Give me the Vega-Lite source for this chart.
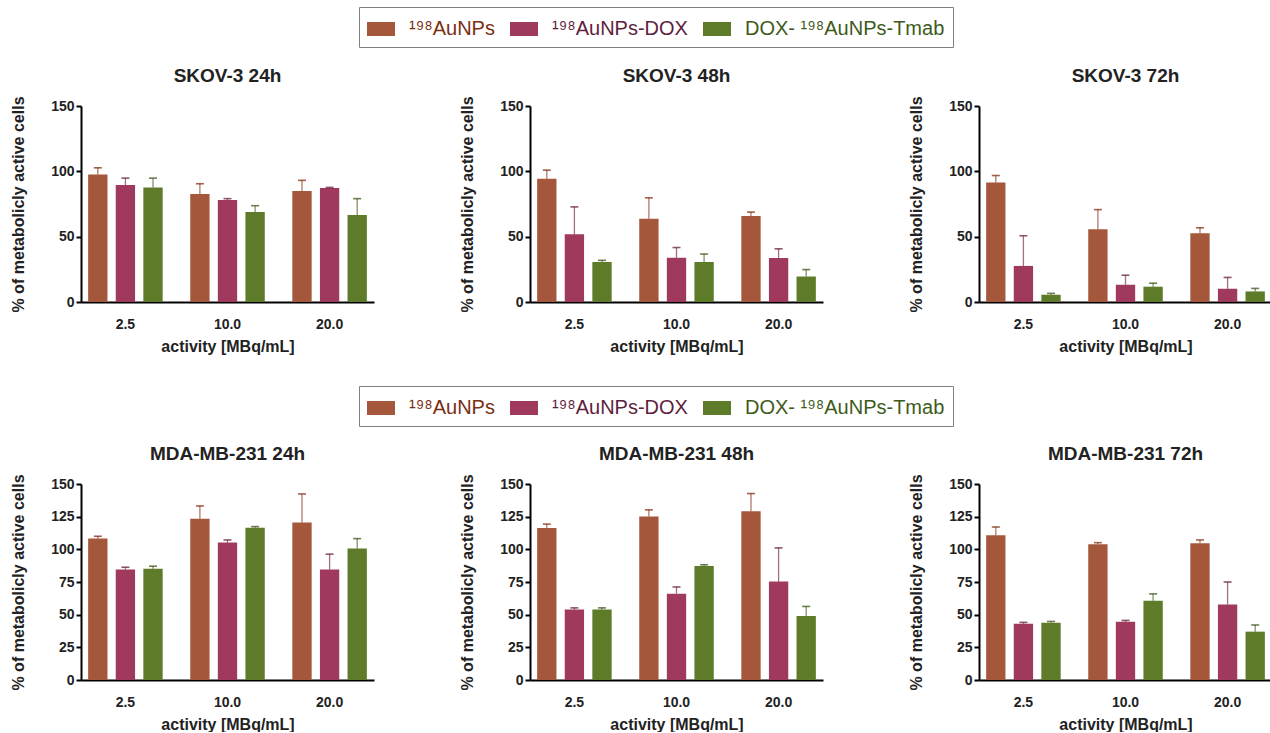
{
  "$schema": "https://vega.github.io/schema/vega-lite/v6.json",
  "padding": {"left": 10, "top": 6, "right": 0, "bottom": 0},
  "data": {"values": [
    {"panel": "SKOV-3 24h", "activity": "2.5", "formulation": "¹⁹⁸AuNPs", "mean": 97.6, "upper": 102.7},
    {"panel": "SKOV-3 24h", "activity": "2.5", "formulation": "¹⁹⁸AuNPs-DOX", "mean": 89.5, "upper": 94.8},
    {"panel": "SKOV-3 24h", "activity": "2.5", "formulation": "DOX- ¹⁹⁸AuNPs-Tmab", "mean": 87.7, "upper": 94.8},
    {"panel": "SKOV-3 24h", "activity": "10.0", "formulation": "¹⁹⁸AuNPs", "mean": 82.6, "upper": 90.5},
    {"panel": "SKOV-3 24h", "activity": "10.0", "formulation": "¹⁹⁸AuNPs-DOX", "mean": 78.1, "upper": 79.1},
    {"panel": "SKOV-3 24h", "activity": "10.0", "formulation": "DOX- ¹⁹⁸AuNPs-Tmab", "mean": 68.9, "upper": 73.7},
    {"panel": "SKOV-3 24h", "activity": "20.0", "formulation": "¹⁹⁸AuNPs", "mean": 84.9, "upper": 93.1},
    {"panel": "SKOV-3 24h", "activity": "20.0", "formulation": "¹⁹⁸AuNPs-DOX", "mean": 87.2, "upper": 87.7},
    {"panel": "SKOV-3 24h", "activity": "20.0", "formulation": "DOX- ¹⁹⁸AuNPs-Tmab", "mean": 66.6, "upper": 79.1},
    {"panel": "SKOV-3 48h", "activity": "2.5", "formulation": "¹⁹⁸AuNPs", "mean": 94.4, "upper": 100.9},
    {"panel": "SKOV-3 48h", "activity": "2.5", "formulation": "¹⁹⁸AuNPs-DOX", "mean": 51.9, "upper": 72.8},
    {"panel": "SKOV-3 48h", "activity": "2.5", "formulation": "DOX- ¹⁹⁸AuNPs-Tmab", "mean": 30.6, "upper": 31.9},
    {"panel": "SKOV-3 48h", "activity": "10.0", "formulation": "¹⁹⁸AuNPs", "mean": 63.7, "upper": 79.7},
    {"panel": "SKOV-3 48h", "activity": "10.0", "formulation": "¹⁹⁸AuNPs-DOX", "mean": 33.9, "upper": 41.7},
    {"panel": "SKOV-3 48h", "activity": "10.0", "formulation": "DOX- ¹⁹⁸AuNPs-Tmab", "mean": 30.6, "upper": 36.7},
    {"panel": "SKOV-3 48h", "activity": "20.0", "formulation": "¹⁹⁸AuNPs", "mean": 65.8, "upper": 68.8},
    {"panel": "SKOV-3 48h", "activity": "20.0", "formulation": "¹⁹⁸AuNPs-DOX", "mean": 33.6, "upper": 40.7},
    {"panel": "SKOV-3 48h", "activity": "20.0", "formulation": "DOX- ¹⁹⁸AuNPs-Tmab", "mean": 19.5, "upper": 24.8},
    {"panel": "SKOV-3 72h", "activity": "2.5", "formulation": "¹⁹⁸AuNPs", "mean": 91.5, "upper": 96.8},
    {"panel": "SKOV-3 72h", "activity": "2.5", "formulation": "¹⁹⁸AuNPs-DOX", "mean": 27.6, "upper": 50.7},
    {"panel": "SKOV-3 72h", "activity": "2.5", "formulation": "DOX- ¹⁹⁸AuNPs-Tmab", "mean": 5.6, "upper": 6.6},
    {"panel": "SKOV-3 72h", "activity": "10.0", "formulation": "¹⁹⁸AuNPs", "mean": 55.7, "upper": 70.7},
    {"panel": "SKOV-3 72h", "activity": "10.0", "formulation": "¹⁹⁸AuNPs-DOX", "mean": 13.2, "upper": 20.5},
    {"panel": "SKOV-3 72h", "activity": "10.0", "formulation": "DOX- ¹⁹⁸AuNPs-Tmab", "mean": 11.7, "upper": 14.4},
    {"panel": "SKOV-3 72h", "activity": "20.0", "formulation": "¹⁹⁸AuNPs", "mean": 52.7, "upper": 56.8},
    {"panel": "SKOV-3 72h", "activity": "20.0", "formulation": "¹⁹⁸AuNPs-DOX", "mean": 10.1, "upper": 18.8},
    {"panel": "SKOV-3 72h", "activity": "20.0", "formulation": "DOX- ¹⁹⁸AuNPs-Tmab", "mean": 8.1, "upper": 10.4},
    {"panel": "MDA-MB-231 24h", "activity": "2.5", "formulation": "¹⁹⁸AuNPs", "mean": 108.2, "upper": 110.0},
    {"panel": "MDA-MB-231 24h", "activity": "2.5", "formulation": "¹⁹⁸AuNPs-DOX", "mean": 84.6, "upper": 86.3},
    {"panel": "MDA-MB-231 24h", "activity": "2.5", "formulation": "DOX- ¹⁹⁸AuNPs-Tmab", "mean": 85.1, "upper": 87.1},
    {"panel": "MDA-MB-231 24h", "activity": "10.0", "formulation": "¹⁹⁸AuNPs", "mean": 123.5, "upper": 133.2},
    {"panel": "MDA-MB-231 24h", "activity": "10.0", "formulation": "¹⁹⁸AuNPs-DOX", "mean": 105.2, "upper": 107.2},
    {"panel": "MDA-MB-231 24h", "activity": "10.0", "formulation": "DOX- ¹⁹⁸AuNPs-Tmab", "mean": 116.6, "upper": 117.4},
    {"panel": "MDA-MB-231 24h", "activity": "20.0", "formulation": "¹⁹⁸AuNPs", "mean": 120.5, "upper": 142.4},
    {"panel": "MDA-MB-231 24h", "activity": "20.0", "formulation": "¹⁹⁸AuNPs-DOX", "mean": 84.6, "upper": 96.3},
    {"panel": "MDA-MB-231 24h", "activity": "20.0", "formulation": "DOX- ¹⁹⁸AuNPs-Tmab", "mean": 100.6, "upper": 108.2},
    {"panel": "MDA-MB-231 48h", "activity": "2.5", "formulation": "¹⁹⁸AuNPs", "mean": 116.3, "upper": 119.3},
    {"panel": "MDA-MB-231 48h", "activity": "2.5", "formulation": "¹⁹⁸AuNPs-DOX", "mean": 54.0, "upper": 55.2},
    {"panel": "MDA-MB-231 48h", "activity": "2.5", "formulation": "DOX- ¹⁹⁸AuNPs-Tmab", "mean": 54.0, "upper": 55.2},
    {"panel": "MDA-MB-231 48h", "activity": "10.0", "formulation": "¹⁹⁸AuNPs", "mean": 125.2, "upper": 130.2},
    {"panel": "MDA-MB-231 48h", "activity": "10.0", "formulation": "¹⁹⁸AuNPs-DOX", "mean": 66.1, "upper": 71.2},
    {"panel": "MDA-MB-231 48h", "activity": "10.0", "formulation": "DOX- ¹⁹⁸AuNPs-Tmab", "mean": 87.2, "upper": 88.2},
    {"panel": "MDA-MB-231 48h", "activity": "20.0", "formulation": "¹⁹⁸AuNPs", "mean": 129.2, "upper": 142.7},
    {"panel": "MDA-MB-231 48h", "activity": "20.0", "formulation": "¹⁹⁸AuNPs-DOX", "mean": 75.3, "upper": 101.1},
    {"panel": "MDA-MB-231 48h", "activity": "20.0", "formulation": "DOX- ¹⁹⁸AuNPs-Tmab", "mean": 48.9, "upper": 56.3},
    {"panel": "MDA-MB-231 72h", "activity": "2.5", "formulation": "¹⁹⁸AuNPs", "mean": 110.7, "upper": 117.1},
    {"panel": "MDA-MB-231 72h", "activity": "2.5", "formulation": "¹⁹⁸AuNPs-DOX", "mean": 43.1, "upper": 44.1},
    {"panel": "MDA-MB-231 72h", "activity": "2.5", "formulation": "DOX- ¹⁹⁸AuNPs-Tmab", "mean": 43.8, "upper": 44.8},
    {"panel": "MDA-MB-231 72h", "activity": "10.0", "formulation": "¹⁹⁸AuNPs", "mean": 103.9, "upper": 105.1},
    {"panel": "MDA-MB-231 72h", "activity": "10.0", "formulation": "¹⁹⁸AuNPs-DOX", "mean": 44.6, "upper": 45.6},
    {"panel": "MDA-MB-231 72h", "activity": "10.0", "formulation": "DOX- ¹⁹⁸AuNPs-Tmab", "mean": 60.6, "upper": 65.9},
    {"panel": "MDA-MB-231 72h", "activity": "20.0", "formulation": "¹⁹⁸AuNPs", "mean": 104.6, "upper": 107.2},
    {"panel": "MDA-MB-231 72h", "activity": "20.0", "formulation": "¹⁹⁸AuNPs-DOX", "mean": 57.8, "upper": 75.0},
    {"panel": "MDA-MB-231 72h", "activity": "20.0", "formulation": "DOX- ¹⁹⁸AuNPs-Tmab", "mean": 37.0, "upper": 42.1}
  ]},
  "spacing": 31,
  "resolve": {"legend": {"color": "independent"}},
  "vconcat": [
    {
      "spacing": 85,
      "hconcat": [
        {
          "title": "SKOV-3 24h", "width": 293, "height": 196,
          "transform": [{"filter": "datum.panel === 'SKOV-3 24h'"}],
          "encoding": {
            "x": {"field": "activity", "type": "nominal", "sort": ["2.5", "10.0", "20.0"], "title": "activity [MBq/mL]", "scale": {"paddingInner": 0.27, "paddingOuter": 0.07}},
            "xOffset": {"field": "formulation", "type": "nominal", "sort": ["¹⁹⁸AuNPs", "¹⁹⁸AuNPs-DOX", "DOX- ¹⁹⁸AuNPs-Tmab"], "scale": {"paddingInner": 0.3}},
            "y": {"field": "mean", "type": "quantitative", "scale": {"domain": [0, 150]}, "title": "% of metabolicly active cells", "axis": {"values": [0, 50, 100, 150]}}
          },
          "layer": [
            {"mark": {"type": "bar"}, "encoding": {"color": {"field": "formulation", "type": "nominal", "scale": {"domain": ["¹⁹⁸AuNPs", "¹⁹⁸AuNPs-DOX", "DOX- ¹⁹⁸AuNPs-Tmab"], "range": ["#a5573c", "#9f395d", "#5e7b2a"]}, "legend": {"title": null, "orient": "none", "legendX": 278, "legendY": -99, "labelColor": {"expr": "datum.value === '¹⁹⁸AuNPs' ? '#7b2e12' : datum.value === '¹⁹⁸AuNPs-DOX' ? '#5e1e3e' : '#3e5a1a'"}}}}},
            {"mark": {"type": "rule", "strokeWidth": 1.3, "opacity": 0.6}, "encoding": {"y2": {"field": "upper"}, "stroke": {"field": "formulation", "type": "nominal", "scale": {"domain": ["¹⁹⁸AuNPs", "¹⁹⁸AuNPs-DOX", "DOX- ¹⁹⁸AuNPs-Tmab"], "range": ["#7a1f00", "#5e0f33", "#2e4a0a"]}, "legend": null}}},
            {"mark": {"type": "tick", "thickness": 1.6, "size": 8}, "encoding": {"y": {"field": "upper", "type": "quantitative", "title": "% of metabolicly active cells"}, "fill": {"field": "formulation", "type": "nominal", "scale": {"domain": ["¹⁹⁸AuNPs", "¹⁹⁸AuNPs-DOX", "DOX- ¹⁹⁸AuNPs-Tmab"], "range": ["#7a1f00", "#5e0f33", "#2e4a0a"]}, "legend": null}}}
          ]
        },
        {
          "title": "SKOV-3 48h", "width": 293, "height": 196,
          "transform": [{"filter": "datum.panel === 'SKOV-3 48h'"}],
          "encoding": {
            "x": {"field": "activity", "type": "nominal", "sort": ["2.5", "10.0", "20.0"], "title": "activity [MBq/mL]", "scale": {"paddingInner": 0.27, "paddingOuter": 0.07}},
            "xOffset": {"field": "formulation", "type": "nominal", "sort": ["¹⁹⁸AuNPs", "¹⁹⁸AuNPs-DOX", "DOX- ¹⁹⁸AuNPs-Tmab"], "scale": {"paddingInner": 0.3}},
            "y": {"field": "mean", "type": "quantitative", "scale": {"domain": [0, 150]}, "title": "% of metabolicly active cells", "axis": {"values": [0, 50, 100, 150]}}
          },
          "layer": [
            {"mark": {"type": "bar"}, "encoding": {"color": {"field": "formulation", "type": "nominal", "scale": {"domain": ["¹⁹⁸AuNPs", "¹⁹⁸AuNPs-DOX", "DOX- ¹⁹⁸AuNPs-Tmab"], "range": ["#a5573c", "#9f395d", "#5e7b2a"]}, "legend": {"title": null, "orient": "none", "legendX": 278, "legendY": -99, "labelColor": {"expr": "datum.value === '¹⁹⁸AuNPs' ? '#7b2e12' : datum.value === '¹⁹⁸AuNPs-DOX' ? '#5e1e3e' : '#3e5a1a'"}}}}},
            {"mark": {"type": "rule", "strokeWidth": 1.3, "opacity": 0.6}, "encoding": {"y2": {"field": "upper"}, "stroke": {"field": "formulation", "type": "nominal", "scale": {"domain": ["¹⁹⁸AuNPs", "¹⁹⁸AuNPs-DOX", "DOX- ¹⁹⁸AuNPs-Tmab"], "range": ["#7a1f00", "#5e0f33", "#2e4a0a"]}, "legend": null}}},
            {"mark": {"type": "tick", "thickness": 1.6, "size": 8}, "encoding": {"y": {"field": "upper", "type": "quantitative", "title": "% of metabolicly active cells"}, "fill": {"field": "formulation", "type": "nominal", "scale": {"domain": ["¹⁹⁸AuNPs", "¹⁹⁸AuNPs-DOX", "DOX- ¹⁹⁸AuNPs-Tmab"], "range": ["#7a1f00", "#5e0f33", "#2e4a0a"]}, "legend": null}}}
          ]
        },
        {
          "title": "SKOV-3 72h", "width": 293, "height": 196,
          "transform": [{"filter": "datum.panel === 'SKOV-3 72h'"}],
          "encoding": {
            "x": {"field": "activity", "type": "nominal", "sort": ["2.5", "10.0", "20.0"], "title": "activity [MBq/mL]", "scale": {"paddingInner": 0.27, "paddingOuter": 0.07}},
            "xOffset": {"field": "formulation", "type": "nominal", "sort": ["¹⁹⁸AuNPs", "¹⁹⁸AuNPs-DOX", "DOX- ¹⁹⁸AuNPs-Tmab"], "scale": {"paddingInner": 0.3}},
            "y": {"field": "mean", "type": "quantitative", "scale": {"domain": [0, 150]}, "title": "% of metabolicly active cells", "axis": {"values": [0, 50, 100, 150]}}
          },
          "layer": [
            {"mark": {"type": "bar"}, "encoding": {"color": {"field": "formulation", "type": "nominal", "scale": {"domain": ["¹⁹⁸AuNPs", "¹⁹⁸AuNPs-DOX", "DOX- ¹⁹⁸AuNPs-Tmab"], "range": ["#a5573c", "#9f395d", "#5e7b2a"]}, "legend": {"title": null, "orient": "none", "legendX": 278, "legendY": -99, "labelColor": {"expr": "datum.value === '¹⁹⁸AuNPs' ? '#7b2e12' : datum.value === '¹⁹⁸AuNPs-DOX' ? '#5e1e3e' : '#3e5a1a'"}}}}},
            {"mark": {"type": "rule", "strokeWidth": 1.3, "opacity": 0.6}, "encoding": {"y2": {"field": "upper"}, "stroke": {"field": "formulation", "type": "nominal", "scale": {"domain": ["¹⁹⁸AuNPs", "¹⁹⁸AuNPs-DOX", "DOX- ¹⁹⁸AuNPs-Tmab"], "range": ["#7a1f00", "#5e0f33", "#2e4a0a"]}, "legend": null}}},
            {"mark": {"type": "tick", "thickness": 1.6, "size": 8}, "encoding": {"y": {"field": "upper", "type": "quantitative", "title": "% of metabolicly active cells"}, "fill": {"field": "formulation", "type": "nominal", "scale": {"domain": ["¹⁹⁸AuNPs", "¹⁹⁸AuNPs-DOX", "DOX- ¹⁹⁸AuNPs-Tmab"], "range": ["#7a1f00", "#5e0f33", "#2e4a0a"]}, "legend": null}}}
          ]
        }
      ]
    },
    {
      "spacing": 85,
      "hconcat": [
        {
          "title": "MDA-MB-231 24h", "width": 293, "height": 196,
          "transform": [{"filter": "datum.panel === 'MDA-MB-231 24h'"}],
          "encoding": {
            "x": {"field": "activity", "type": "nominal", "sort": ["2.5", "10.0", "20.0"], "title": "activity [MBq/mL]", "scale": {"paddingInner": 0.27, "paddingOuter": 0.07}},
            "xOffset": {"field": "formulation", "type": "nominal", "sort": ["¹⁹⁸AuNPs", "¹⁹⁸AuNPs-DOX", "DOX- ¹⁹⁸AuNPs-Tmab"], "scale": {"paddingInner": 0.3}},
            "y": {"field": "mean", "type": "quantitative", "scale": {"domain": [0, 150]}, "title": "% of metabolicly active cells", "axis": {"values": [0, 25, 50, 75, 100, 125, 150]}}
          },
          "layer": [
            {"mark": {"type": "bar"}, "encoding": {"color": {"field": "formulation", "type": "nominal", "scale": {"domain": ["¹⁹⁸AuNPs", "¹⁹⁸AuNPs-DOX", "DOX- ¹⁹⁸AuNPs-Tmab"], "range": ["#a5573c", "#9f395d", "#5e7b2a"]}, "legend": {"title": null, "orient": "none", "legendX": 278, "legendY": -98, "labelColor": {"expr": "datum.value === '¹⁹⁸AuNPs' ? '#7b2e12' : datum.value === '¹⁹⁸AuNPs-DOX' ? '#5e1e3e' : '#3e5a1a'"}}}}},
            {"mark": {"type": "rule", "strokeWidth": 1.3, "opacity": 0.6}, "encoding": {"y2": {"field": "upper"}, "stroke": {"field": "formulation", "type": "nominal", "scale": {"domain": ["¹⁹⁸AuNPs", "¹⁹⁸AuNPs-DOX", "DOX- ¹⁹⁸AuNPs-Tmab"], "range": ["#7a1f00", "#5e0f33", "#2e4a0a"]}, "legend": null}}},
            {"mark": {"type": "tick", "thickness": 1.6, "size": 8}, "encoding": {"y": {"field": "upper", "type": "quantitative", "title": "% of metabolicly active cells"}, "fill": {"field": "formulation", "type": "nominal", "scale": {"domain": ["¹⁹⁸AuNPs", "¹⁹⁸AuNPs-DOX", "DOX- ¹⁹⁸AuNPs-Tmab"], "range": ["#7a1f00", "#5e0f33", "#2e4a0a"]}, "legend": null}}}
          ]
        },
        {
          "title": "MDA-MB-231 48h", "width": 293, "height": 196,
          "transform": [{"filter": "datum.panel === 'MDA-MB-231 48h'"}],
          "encoding": {
            "x": {"field": "activity", "type": "nominal", "sort": ["2.5", "10.0", "20.0"], "title": "activity [MBq/mL]", "scale": {"paddingInner": 0.27, "paddingOuter": 0.07}},
            "xOffset": {"field": "formulation", "type": "nominal", "sort": ["¹⁹⁸AuNPs", "¹⁹⁸AuNPs-DOX", "DOX- ¹⁹⁸AuNPs-Tmab"], "scale": {"paddingInner": 0.3}},
            "y": {"field": "mean", "type": "quantitative", "scale": {"domain": [0, 150]}, "title": "% of metabolicly active cells", "axis": {"values": [0, 25, 50, 75, 100, 125, 150]}}
          },
          "layer": [
            {"mark": {"type": "bar"}, "encoding": {"color": {"field": "formulation", "type": "nominal", "scale": {"domain": ["¹⁹⁸AuNPs", "¹⁹⁸AuNPs-DOX", "DOX- ¹⁹⁸AuNPs-Tmab"], "range": ["#a5573c", "#9f395d", "#5e7b2a"]}, "legend": {"title": null, "orient": "none", "legendX": 278, "legendY": -98, "labelColor": {"expr": "datum.value === '¹⁹⁸AuNPs' ? '#7b2e12' : datum.value === '¹⁹⁸AuNPs-DOX' ? '#5e1e3e' : '#3e5a1a'"}}}}},
            {"mark": {"type": "rule", "strokeWidth": 1.3, "opacity": 0.6}, "encoding": {"y2": {"field": "upper"}, "stroke": {"field": "formulation", "type": "nominal", "scale": {"domain": ["¹⁹⁸AuNPs", "¹⁹⁸AuNPs-DOX", "DOX- ¹⁹⁸AuNPs-Tmab"], "range": ["#7a1f00", "#5e0f33", "#2e4a0a"]}, "legend": null}}},
            {"mark": {"type": "tick", "thickness": 1.6, "size": 8}, "encoding": {"y": {"field": "upper", "type": "quantitative", "title": "% of metabolicly active cells"}, "fill": {"field": "formulation", "type": "nominal", "scale": {"domain": ["¹⁹⁸AuNPs", "¹⁹⁸AuNPs-DOX", "DOX- ¹⁹⁸AuNPs-Tmab"], "range": ["#7a1f00", "#5e0f33", "#2e4a0a"]}, "legend": null}}}
          ]
        },
        {
          "title": "MDA-MB-231 72h", "width": 293, "height": 196,
          "transform": [{"filter": "datum.panel === 'MDA-MB-231 72h'"}],
          "encoding": {
            "x": {"field": "activity", "type": "nominal", "sort": ["2.5", "10.0", "20.0"], "title": "activity [MBq/mL]", "scale": {"paddingInner": 0.27, "paddingOuter": 0.07}},
            "xOffset": {"field": "formulation", "type": "nominal", "sort": ["¹⁹⁸AuNPs", "¹⁹⁸AuNPs-DOX", "DOX- ¹⁹⁸AuNPs-Tmab"], "scale": {"paddingInner": 0.3}},
            "y": {"field": "mean", "type": "quantitative", "scale": {"domain": [0, 150]}, "title": "% of metabolicly active cells", "axis": {"values": [0, 25, 50, 75, 100, 125, 150]}}
          },
          "layer": [
            {"mark": {"type": "bar"}, "encoding": {"color": {"field": "formulation", "type": "nominal", "scale": {"domain": ["¹⁹⁸AuNPs", "¹⁹⁸AuNPs-DOX", "DOX- ¹⁹⁸AuNPs-Tmab"], "range": ["#a5573c", "#9f395d", "#5e7b2a"]}, "legend": {"title": null, "orient": "none", "legendX": 278, "legendY": -98, "labelColor": {"expr": "datum.value === '¹⁹⁸AuNPs' ? '#7b2e12' : datum.value === '¹⁹⁸AuNPs-DOX' ? '#5e1e3e' : '#3e5a1a'"}}}}},
            {"mark": {"type": "rule", "strokeWidth": 1.3, "opacity": 0.6}, "encoding": {"y2": {"field": "upper"}, "stroke": {"field": "formulation", "type": "nominal", "scale": {"domain": ["¹⁹⁸AuNPs", "¹⁹⁸AuNPs-DOX", "DOX- ¹⁹⁸AuNPs-Tmab"], "range": ["#7a1f00", "#5e0f33", "#2e4a0a"]}, "legend": null}}},
            {"mark": {"type": "tick", "thickness": 1.6, "size": 8}, "encoding": {"y": {"field": "upper", "type": "quantitative", "title": "% of metabolicly active cells"}, "fill": {"field": "formulation", "type": "nominal", "scale": {"domain": ["¹⁹⁸AuNPs", "¹⁹⁸AuNPs-DOX", "DOX- ¹⁹⁸AuNPs-Tmab"], "range": ["#7a1f00", "#5e0f33", "#2e4a0a"]}, "legend": null}}}
          ]
        }
      ]
    }
  ],
  "config": {
    "font": "Liberation Sans",
    "view": {"stroke": null},
    "title": {"font": "Liberation Sans", "fontSize": 19, "fontWeight": "bold", "color": "#222222", "baseline": "alphabetic", "offset": 10, "anchor": "middle", "frame": "group"},
    "axis": {"grid": false, "domainColor": "#000000", "domainWidth": 2, "tickColor": "#000000", "tickWidth": 2, "labelFont": "Liberation Sans", "labelFontSize": 14, "labelFontWeight": "bold", "labelColor": "#222222", "titleFont": "Liberation Sans", "titleFontSize": 16, "titleFontWeight": "bold", "titleColor": "#222222"},
    "axisY": {"tickSize": 5, "labelPadding": 2, "titlePadding": 24},
    "axisX": {"ticks": false, "labelPadding": 15, "titlePadding": 7, "labelAngle": 0},
    "legend": {"direction": "horizontal", "symbolType": "M-1,-0.5H1V0.5H-1Z", "symbolSize": 784, "symbolStrokeWidth": 0, "symbolOpacity": 1, "labelFont": "Liberation Sans", "labelFontSize": 20, "labelOffset": 14, "columnPadding": 15, "padding": 8, "strokeColor": "#808080", "fillColor": "#ffffff", "labelLimit": 0}
  }
}
